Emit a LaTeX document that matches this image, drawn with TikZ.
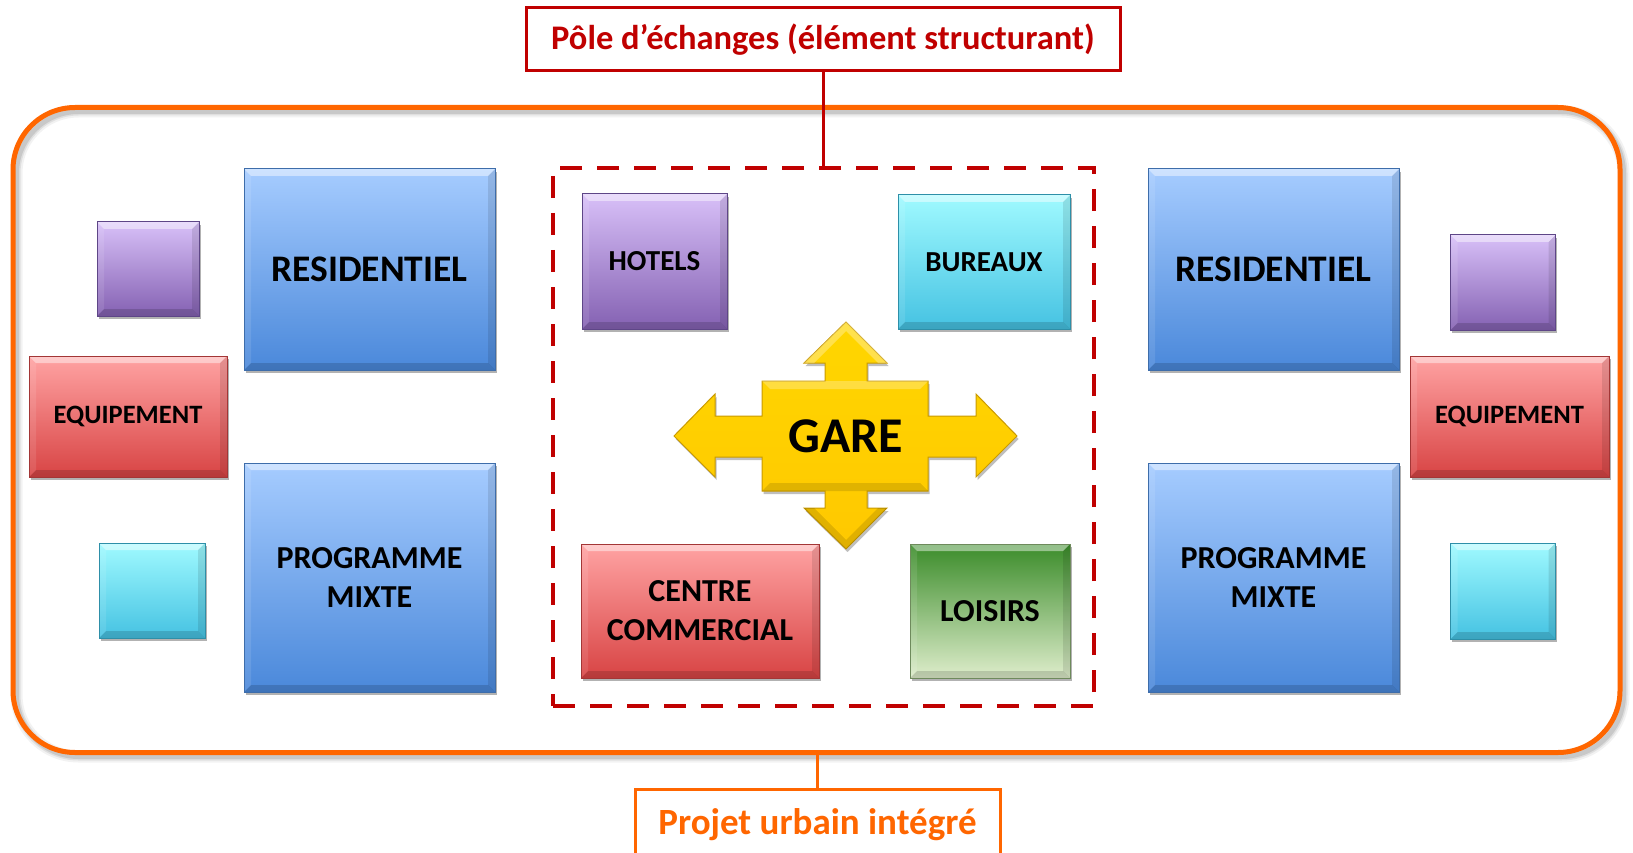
\documentclass[tikz,border=0pt]{standalone}
\usepackage{fontspec}
\setmainfont{Carlito}
\usetikzlibrary{shadows}
\definecolor{bluetop}{HTML}{A6CCFF}
\definecolor{bluebot}{HTML}{4A88DA}
\definecolor{blueedge}{HTML}{3E6DAA}
\definecolor{purtop}{HTML}{D8C0F8}
\definecolor{purbot}{HTML}{8461B2}
\definecolor{puredge}{HTML}{5E4687}
\definecolor{cyatop}{HTML}{A0FAFF}
\definecolor{cyabot}{HTML}{45C2E2}
\definecolor{cyaedge}{HTML}{2E8FA8}
\definecolor{redtop}{HTML}{FFA3A3}
\definecolor{redbot}{HTML}{D84444}
\definecolor{rededge}{HTML}{A33636}
\definecolor{grntop}{HTML}{3B8C2A}
\definecolor{grnbot}{HTML}{DEEDCB}
\definecolor{grnedge}{HTML}{6E8A5C}
\definecolor{garey}{HTML}{FFCC00}
\definecolor{gareedge}{HTML}{C99A00}
\definecolor{darkred}{HTML}{C00000}
\definecolor{orng}{HTML}{FF6600}
\tikzset{
  bev/.style={rectangle, inner sep=0pt, draw=#1, line width=1pt, align=center,
    font=\bfseries\fontsize{28}{36}\selectfont,
    drop shadow={shadow xshift=1.5pt, shadow yshift=-3pt, opacity=.3, fill=black},
    path picture={
      \fill[white,opacity=.45] (path picture bounding box.north west) -- (path picture bounding box.north east)
        -- ([xshift=-7pt,yshift=-7pt]path picture bounding box.north east) -- ([xshift=7pt,yshift=-7pt]path picture bounding box.north west) -- cycle;
      \fill[black,opacity=.15] (path picture bounding box.south west) -- (path picture bounding box.south east)
        -- ([xshift=-7pt,yshift=7pt]path picture bounding box.south east) -- ([xshift=7pt,yshift=7pt]path picture bounding box.south west) -- cycle;
      \fill[black,opacity=.10] (path picture bounding box.north east) -- (path picture bounding box.south east)
        -- ([xshift=-7pt,yshift=7pt]path picture bounding box.south east) -- ([xshift=-7pt,yshift=-7pt]path picture bounding box.north east) -- cycle;
      \fill[white,opacity=.10] (path picture bounding box.north west) -- (path picture bounding box.south west)
        -- ([xshift=7pt,yshift=7pt]path picture bounding box.south west) -- ([xshift=7pt,yshift=-7pt]path picture bounding box.north west) -- cycle;
    }},
  bluebox/.style={bev=blueedge, top color=bluetop, bottom color=bluebot},
  purbox/.style={bev=puredge, top color=purtop, bottom color=purbot},
  cyabox/.style={bev=cyaedge, top color=cyatop, bottom color=cyabot},
  redbox/.style={bev=rededge, top color=redtop, bottom color=redbot},
  grnbox/.style={bev=grnedge, top color=grntop, bottom color=grnbot},
  sz/.style n args={2}{minimum width=#1pt, minimum height=#2pt},
  big/.style={font=\bfseries\fontsize{37.5}{40}\selectfont},
  mid/.style={font=\bfseries\fontsize{32}{39}\selectfont},
  small/.style={font=\bfseries\fontsize{29}{34}\selectfont},
  equip/.style={font=\bfseries\fontsize{26.5}{30}\selectfont},
  label/.style={rectangle, line width=3pt, inner sep=0pt},
}
\begin{document}
\begin{tikzpicture}[x=1pt,y=-1pt]
\useasboundingbox (0,0) rectangle (1633,853);
% soft shadow of outer frame
\draw[black, opacity=.05, line width=12pt, rounded corners=62pt] (16.5,111.5) rectangle (1623.5,756.5);
\draw[black, opacity=.08, line width=8pt, rounded corners=62pt] (16.5,111.5) rectangle (1623.5,756.5);
\draw[black, opacity=.10, line width=5pt, rounded corners=62pt] (16.5,111.5) rectangle (1623.5,756.5);
\node[draw=orng, line width=5pt, rounded corners=62pt, minimum width=1607pt, minimum height=645pt, inner sep=0pt] (outer) at (816.5,430) {};
% dashed hub
\node[draw=darkred, line width=4.5pt, dash pattern=on 22pt off 15pt, minimum width=541pt, minimum height=538pt, inner sep=0pt] (hub) at (823.5,437) {};
% labels
\node[label, draw=darkred, text=darkred, sz={594}{63}, font=\bfseries\fontsize{34.5}{38}\selectfont] (pole) at (823,39.5) {Pôle d’échanges (élément structurant)};
\node[label, draw=orng, text=orng, fill=white, sz={365}{72}, font=\bfseries\fontsize{37}{40}\selectfont] (projet) at (817.5,825) {Projet urbain intégré};
\draw[darkred, line width=3pt] (pole.south) -- (pole.south |- hub.north);
\draw[orng, line width=3pt] (projet.north) -- (projet.north |- outer.south);
% left side
\node[bluebox, big, sz={251}{201}] (resL) at (369.5,269.5) {RESIDENTIEL};
\node[bluebox, mid, sz={251}{229}] (mixL) at (369.5,577.5) {PROGRAMME\\MIXTE};
\node[redbox, equip, sz={198}{121}] (equL) at (128,416.5) {EQUIPEMENT};
\node[purbox, sz={102}{94}] (purL) at (148,269) {};
\node[cyabox, sz={106}{95}] (cyaL) at (152,590.5) {};
% right side
\node[bluebox, big, sz={251}{201}] (resR) at (1273.5,269.5) {RESIDENTIEL};
\node[bluebox, mid, sz={251}{229}] (mixR) at (1273.5,577.5) {PROGRAMME\\MIXTE};
\node[redbox, equip, sz={199}{121}] (equR) at (1509.5,416.5) {EQUIPEMENT};
\node[purbox, sz={105}{95}] (purR) at (1503,282.5) {};
\node[cyabox, sz={105}{96}] (cyaR) at (1503,591) {};
% hub content
\node[purbox, small, sz={145}{135}] (hotels) at (654.5,261.5) {HOTELS};
\node[cyabox, small, sz={172}{134}] (bureaux) at (984,262) {BUREAUX};
\node[redbox, mid, sz={238}{134}] (centre) at (700,611) {CENTRE\\COMMERCIAL};
\node[grnbox, mid, sz={160}{134}] (loisirs) at (990,611) {LOISIRS};
% GARE cross
\fill[black, opacity=.25] ([xshift=1.5pt,yshift=-3pt]846,322) -- ++(41,41) -- ++(-20,0) -- ++(0,18) -- ++(61,0) -- ++(0,35) -- ++(48,0) -- ++(0,-22) -- ++(41,42) -- ++(-41,41) -- ++(0,-20) -- ++(-48,0) -- ++(0,34) -- ++(-61,0) -- ++(0,17) -- ++(20,0) -- ++(-41,41) -- ++(-42,-41) -- ++(21,0) -- ++(0,-17) -- ++(-63,0) -- ++(0,-34) -- ++(-47,0) -- ++(0,20) -- ++(-41,-41) -- ++(41,-42) -- ++(0,22) -- ++(47,0) -- ++(0,-35) -- ++(63,0) -- ++(0,-18) -- ++(-21,0) -- cycle;
\draw[gareedge, line width=1pt, top color=garey!80!yellow, bottom color=garey!95!orange]
  (846,322) -- (887,363) -- (867,363) -- (867,381) -- (928,381) -- (928,416) -- (976,416) -- (976,394) -- (1017,436) -- (976,477) -- (976,457) -- (928,457) -- (928,491) -- (867,491) -- (867,508) -- (887,508) -- (846,549) -- (804,508) -- (825,508) -- (825,491) -- (762,491) -- (762,457) -- (715,457) -- (715,477) -- (674,436) -- (715,394) -- (715,416) -- (762,416) -- (762,381) -- (825,381) -- (825,363) -- (804,363) -- cycle;
% bevel highlights on cross
\fill[white, opacity=.3] (846,322) -- (887,363) -- (878,363) -- (846,331) -- (814,363) -- (804,363) -- cycle;
\fill[white, opacity=.25] (762,381) -- (928,381) -- (920,389) -- (770,389) -- cycle;
\fill[black, opacity=.12] (762,491) -- (928,491) -- (920,483) -- (770,483) -- cycle;
\fill[black, opacity=.12] (804,508) -- (846,549) -- (887,508) -- (878,508) -- (846,540) -- (814,508) -- cycle;
\node[font=\bfseries\fontsize{50}{52}\selectfont, inner sep=0pt] (gare) at (846,436) {GARE};
\end{tikzpicture}
\end{document}
